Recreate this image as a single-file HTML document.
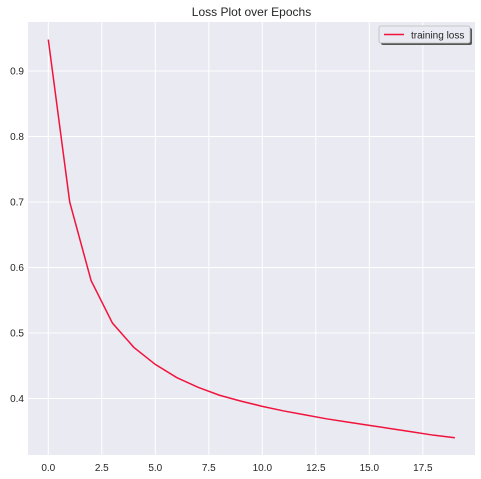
<!DOCTYPE html>
<html><head><meta charset="utf-8"><style>
body{margin:0;background:#fff;}
svg{display:block;font-family:"Liberation Sans",sans-serif;}
</style></head><body>
<svg id="c" width="481" height="479">
<rect x="28" y="22" width="447" height="433" fill="#eaeaf2"/>
<g id="grid"></g>
<g id="ticks"></g>
<g id="series"></g>
<text x="251.5" y="16" text-anchor="middle" font-size="12" fill="#262626">Loss Plot over Epochs</text>
<g>
<rect x="381" y="28" width="91" height="17" rx="2" fill="#555"/>
<rect x="379" y="26" width="91" height="17" rx="2" fill="#eaeaf2" stroke="#bbb" stroke-width="0.8"/>
<line x1="384" y1="34.5" x2="404" y2="34.5" stroke="#f0143c" stroke-width="1.5"/>
<text x="411" y="38.5" font-size="10" fill="#262626">training loss</text>
</g>
</svg>
<script>
const epochs=[0,1,2,3,4,5,6,7,8,9,10,11,12,13,14,15,16,17,18,19];
const losses=[0.948,0.700,0.580,0.515,0.478,0.452,0.432,0.417,0.405,0.396,0.388,0.381,0.375,0.369,0.364,0.359,0.354,0.349,0.344,0.340];
const xTicks=[0,2.5,5,7.5,10,12.5,15,17.5];
const xLabels=["0.0","2.5","5.0","7.5","10.0","12.5","15.0","17.5"];
const yTicks=[0.4,0.5,0.6,0.7,0.8,0.9];
const yLabels=["0.4","0.5","0.6","0.7","0.8","0.9"];
const NS="http://www.w3.org/2000/svg";
const X=v=>48.3+v*21.4;
const Y=v=>71-(v-0.9)*655;
function mk(t,a,p){const e=document.createElementNS(NS,t);for(const k in a)e.setAttribute(k,a[k]);p.appendChild(e);return e;}
const g=document.getElementById('grid'),tk=document.getElementById('ticks'),s=document.getElementById('series');
xTicks.forEach((v,i)=>{
 const l=mk('line',{x1:X(v),x2:X(v),y1:22,y2:455,stroke:'#fff','stroke-width':1},g);
 
 
 const t=mk('text',{x:X(v),y:471,'text-anchor':'middle','font-size':10,fill:'#262626'},tk);
 t.textContent=xLabels[i];
 
 
});
yTicks.forEach((v,i)=>{
 const l=mk('line',{x1:28,x2:475,y1:Y(v),y2:Y(v),stroke:'#fff','stroke-width':1},g);
 
 
 const t=mk('text',{x:24,y:Y(v)+3.5,'text-anchor':'end','font-size':10,fill:'#262626'},tk);
 t.textContent=yLabels[i];
 
 
});
const pts=epochs.map((e,i)=>X(e)+','+Y(losses[i])).join(' ');
const pl=mk('polyline',{points:pts,fill:'none',stroke:'#f0143c','stroke-width':1.5},s);


</script>
</body></html>
